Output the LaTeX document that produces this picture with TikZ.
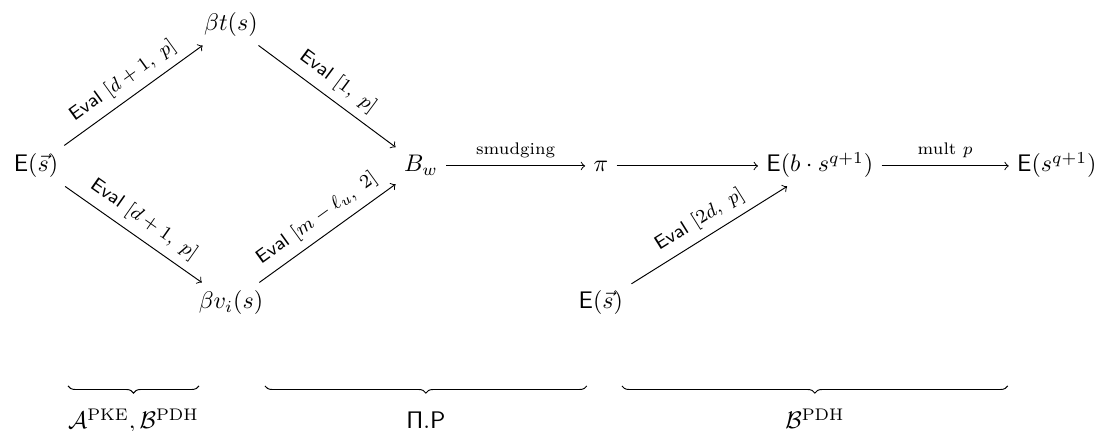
\documentclass[tikz,border=0pt]{standalone}
\usepackage{amsmath}
\usetikzlibrary{decorations.pathreplacing}

\begin{document}
\begin{tikzpicture}[>=to,
  obj/.style={text height=7.5pt,text depth=2.5pt},
  lab/.style={font=\scriptsize},
  evl/.style={font=\footnotesize,above,sloped},
  grp/.style={decorate,decoration={brace,mirror,amplitude=3pt}}]
\useasboundingbox (0,0) rectangle (16.07,-6.30);
\node[obj] (es) at (0.527,-2.431) {$\mathsf{E}(\vec{s})$};
\node[obj] (bt) at (3.383,-0.366) {$\beta t(s)$};
\node[obj] (bv) at (3.383,-4.438) {$\beta v_i(s)$};
\node[obj] (bw) at (6.166,-2.431) {$B_w$};
\node[obj] (pi) at (8.802,-2.431) {$\pi$};
\node[obj] (es2) at (8.802,-4.438) {$\mathsf{E}(\vec{s})$};
\node[obj] (ebs) at (12.010,-2.431) {$\mathsf{E}(b\cdot s^{q+1})$};
\node[obj] (esq) at (15.481,-2.431) {$\mathsf{E}(s^{q+1})$};
\draw[->] (es) -- node[evl] {$\mathsf{Eval}\ [d+1,\ p]$} (bt);
\draw[->] (bt) -- node[evl] {$\mathsf{Eval}\ [1,\ p]$} (bw);
\draw[->] (es) -- node[evl] {$\mathsf{Eval}\ [d+1,\ p]$} (bv);
\draw[->] (bv) -- node[evl] {$\mathsf{Eval}\ [m-\ell_u,\ 2]$} (bw);
\draw[->] (bw) -- node[lab,above] {smudging} (pi);
\draw[->] (pi) -- (ebs);
\draw[->] (es2) -- node[evl] {$\mathsf{Eval}\ [2d,\ p]$} (ebs);
\draw[->] (ebs) -- node[lab,above] {mult $p$} (esq);
\draw[grp] (0.996,-5.653) -- (2.915,-5.653);
\draw[grp] (3.881,-5.653) -- (8.597,-5.653);
\draw[grp] (9.110,-5.653) -- (14.763,-5.653);
\node[anchor=base] (g1) at (1.955,-6.283) {$\mathcal{A}^{\mathrm{PKE}},\mathcal{B}^{\mathrm{PDH}}$};
\node[anchor=base] (g2) at (6.239,-6.283) {$\mathsf{\Pi.P}$};
\node[anchor=base] (g3) at (11.937,-6.283) {$\mathcal{B}^{\mathrm{PDH}}$};
\end{tikzpicture}
\end{document}
